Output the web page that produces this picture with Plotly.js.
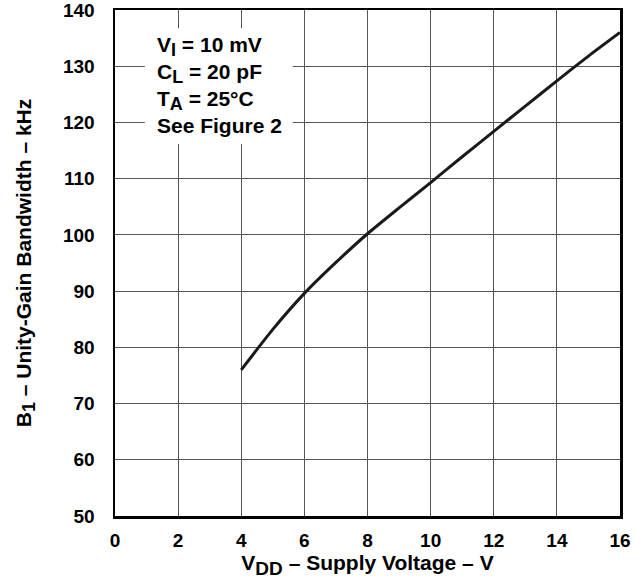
<!DOCTYPE html>
<html><head><meta charset="utf-8">
<script src="https://cdn.plot.ly/plotly-3.0.1.min.js"></script>
<style>body{margin:0;padding:0;background:#fff}#chart{width:644px;height:584px}</style>
</head><body><div id="chart"></div>
<script>
const supplyVoltage = [4, 5, 6, 7, 8, 9, 10, 11, 12, 13, 14, 15, 16];
const bandwidthKHz = [76, 83.2, 89.6, 95.1, 100.2, 104.8, 109.3, 113.9, 118.4, 122.9, 127.4, 131.8, 136];
const xTicks = [0, 2, 4, 6, 8, 10, 12, 14, 16];
const yTicks = [50, 60, 70, 80, 90, 100, 110, 120, 130, 140];
const sub = s => '<sub><span style="font-size:18px">' + s + '</span></sub>';
const conditionLines = ["V" + sub("I") + " = 10 mV", "C" + sub("L") + " = 20 pF", "T" + sub("A") + " = 25°C", "See Figure 2"];
const conditionRowY = [0.928, 0.875, 0.821, 0.771];

const fam = "Liberation Sans, Arial, sans-serif";
const trace = {
  x: supplyVoltage, y: bandwidthKHz, type: "scatter", mode: "lines",
  line: {color: "#1a1a1a", width: 3, shape: "spline", smoothing: 0.6},
  hoverinfo: "skip"
};
const axisCommon = {
  showline: true, linecolor: "#000", linewidth: 2.5, mirror: true,
  showgrid: true, gridcolor: "#555", gridwidth: 1, zeroline: false,
  ticks: "", ticklabeloverflow: "allow",
  tickfont: {family: fam, size: 19, color: "#000", weight: "bold"}
};
const layout = {
  width: 644, height: 584,
  margin: {l: 115, r: 24, t: 10, b: 68},
  paper_bgcolor: "#fff", plot_bgcolor: "#fff",
  showlegend: false,
  xaxis: Object.assign({}, axisCommon, {
    range: [0, 16], tickvals: xTicks, ticktext: xTicks.map(String), ticklabelstandoff: 6,
    title: {text: "V" + '<sub><span style="font-size:19px">DD</span></sub>' + " – Supply Voltage – V", font: {family: fam, size: 21, color: "#000", weight: "bold"}, standoff: 5}
  }),
  yaxis: Object.assign({}, axisCommon, {
    range: [50, 140], tickvals: yTicks, ticktext: yTicks.map(String), ticklabelstandoff: 14,
    title: {text: "B" + '<sub><span style="font-size:18px">1</span></sub>' + " – Unity-Gain Bandwidth – kHz", font: {family: fam, size: 21, color: "#000", weight: "bold"}, standoff: 26}
  }),
  shapes: [{
    type: "rect", xref: "paper", yref: "paper", x0: 0.059, x1: 0.352, y0: 0.735, y1: 0.964,
    fillcolor: "#fff", line: {width: 0}, layer: "above"
  }],
  annotations: conditionLines.map((t, i) => ({
    xref: "paper", yref: "paper", x: 0.08, y: conditionRowY[i], xanchor: "left", yanchor: "middle",
    align: "left", showarrow: false, text: t,
    font: {family: fam, size: 21, color: "#000", weight: "bold"}
  }))
};
Plotly.newPlot("chart", [trace], layout, {displayModeBar: false, staticPlot: true});
</script></body></html>
